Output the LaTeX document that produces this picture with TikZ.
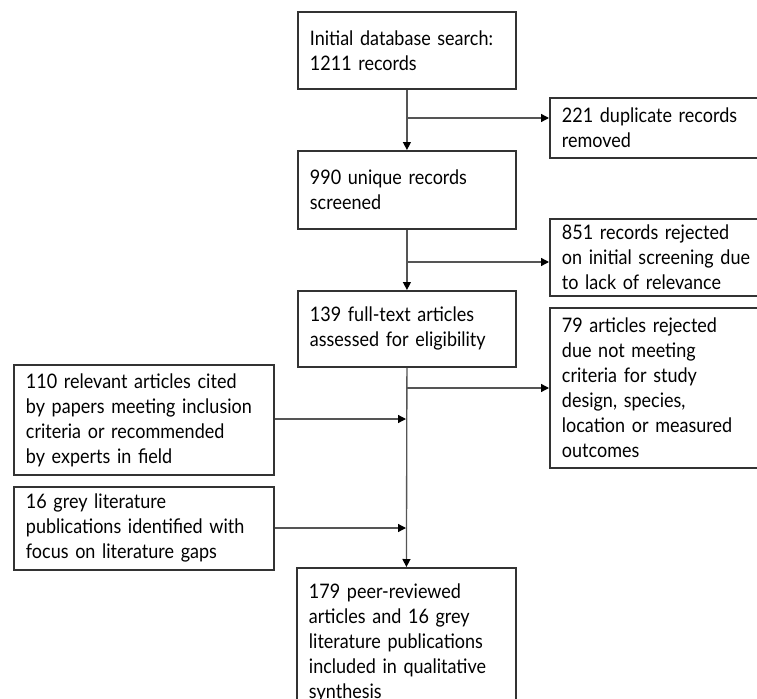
\documentclass[tikz,border=0pt]{standalone}
\usepackage{fontspec}
\setmainfont{Lato}[FakeStretch=0.9]
\usetikzlibrary{arrows.meta}
\definecolor{boxc}{HTML}{333333}
\definecolor{linec}{HTML}{555555}
\tikzset{
  box/.style={draw=boxc, line width=1.4pt, align=left, inner xsep=9pt, inner ysep=0pt,
    anchor=north west, font=\fontsize{15pt}{18.75pt}\selectfont},
  conn/.style={draw=linec, line width=1pt},
  arr/.style={conn, -{Triangle[length=6pt,width=6pt,color=black]}}
}
\begin{document}
\begin{tikzpicture}[x=0.75pt,y=-0.75pt]
\useasboundingbox (0,0) rectangle (757,699);
\clip (0,0) rectangle (757,699);
\node[box, text width=145.5pt, minimum height=57.75pt] (b1) at (297,11) {Initial database search:\\1211 records};
\node[box, text width=177pt, minimum height=45pt] (b2) at (549,97) {221 duplicate records\\removed};
\node[box, text width=145.5pt, minimum height=58.5pt] (b3) at (297,150) {990 unique records\\screened};
\node[box, text width=177pt, minimum height=57.75pt] (b4) at (549,218) {851 records rejected\\on initial screening due\\to lack of relevance};
\node[box, text width=145.5pt, minimum height=57pt] (b5) at (297,290) {139 full-text articles\\assessed for eligibility};
\node[box, text width=177pt, minimum height=120pt] (b6) at (549,307) {79 articles rejected\\due not meeting\\criteria for study\\design, species,\\location or measured\\outcomes};
\node[box, text width=177pt, minimum height=82.5pt] (b7) at (13,364) {110 relevant articles cited\\by papers meeting inclusion\\criteria or recommended\\by experts in field};
\node[box, text width=177pt, minimum height=62.25pt] (b8) at (13,486) {16 grey literature\\publications identified with\\focus on literature gaps};
\node[box, text width=146.25pt, minimum height=112pt] (b9) at (296,567) {179 peer-reviewed\\articles and 16 grey\\literature publications\\included in qualitative\\synthesis};
\coordinate (j1) at (406,118);
\coordinate (j2) at (406,262);
\coordinate (j3) at (406,388);
\coordinate (j4) at (406,419);
\coordinate (j5) at (406,528);
\draw[arr] (b1.south) -- (b3.north);
\draw[arr] (j1) -- (j1 -| b2.west);
\draw[arr] (b3.south) -- (b5.north);
\draw[arr] (j2) -- (j2 -| b4.west);
\draw[arr] (b5.south) -- (b9.north);
\draw[arr] (j3) -- (j3 -| b6.west);
\draw[arr] (b7.east |- j4) -- (j4);
\draw[arr] (b8.east |- j5) -- (j5);
\end{tikzpicture}
\end{document}
